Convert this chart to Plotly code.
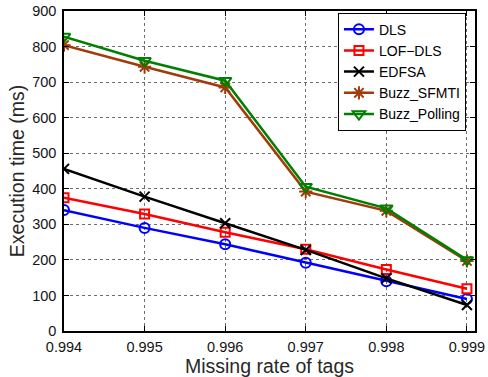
import plotly.graph_objects as go

missing_rate = [0.994, 0.995, 0.996, 0.997, 0.998, 0.999]
dls = [340, 290, 244, 192, 140, 90]
lof_dls = [375, 329, 278, 230, 173, 119]
edfsa = [456, 378, 303, 228, 148, 73]
buzz_sfmti = [804, 743, 685, 392, 338, 197]
buzz_polling = [828, 760, 704, 406, 345, 200]

series = [
    ("DLS", dls, "rgb(0,0,255)", "circle-open", 10),
    ("LOF\u2212DLS", lof_dls, "rgb(255,0,0)", "square-open", 9),
    ("EDFSA", edfsa, "rgb(0,0,0)", "x-thin-open", 10),
    ("Buzz_SFMTI", buzz_sfmti, "rgb(160,60,10)", "asterisk-open", 11),
    ("Buzz_Polling", buzz_polling, "rgb(0,128,0)", "triangle-down-open", 11),
]

fig = go.Figure()
for name, vals, color, symbol, size in series:
    fig.add_trace(go.Scatter(
        x=missing_rate, y=vals, name=name, mode="lines+markers",
        line=dict(color=color, width=2.5),
        marker=dict(symbol=symbol, size=size, color=color,
                    line=dict(color=color, width=2)),
    ))

axis_common = dict(
    showline=True, linecolor="black", linewidth=1.5, mirror="ticks",
    ticks="inside", ticklen=5, tickcolor="black", automargin=False,
    showgrid=True, gridcolor="rgb(110,110,110)", griddash="dot", gridwidth=1,
    zeroline=False, tickfont=dict(size=14.5, color="rgb(20,20,20)"),
)

fig.update_xaxes(
    range=[0.994, 0.9991], tickvals=missing_rate,
    ticktext=[f"{v:.3f}" for v in missing_rate],
    ticklabelstandoff=2,
    title=dict(text="Missing rate of tags", font=dict(size=19.5, color="rgb(40,40,40)"), standoff=3),
    **axis_common,
)
fig.update_yaxes(
    range=[0, 900], dtick=100,
    ticklabelstandoff=3,
    title=dict(text="Execution time (ms)", font=dict(size=19.5, color="rgb(40,40,40)"), standoff=2),
    **axis_common,
)

fig.update_layout(
    width=488, height=377,
    margin=dict(l=64, r=13, t=11, b=46),
    paper_bgcolor="white", plot_bgcolor="white",
    font=dict(family="Liberation Sans, Arial, sans-serif", color="black"),
    legend=dict(
        x=0.978, y=0.995, xanchor="right", yanchor="top",
        bgcolor="white", bordercolor="black", borderwidth=1,
        font=dict(size=14, color="black"),
        tracegroupgap=0, itemwidth=30,
    ),
    showlegend=True,
)

fig.write_html("out.html")
